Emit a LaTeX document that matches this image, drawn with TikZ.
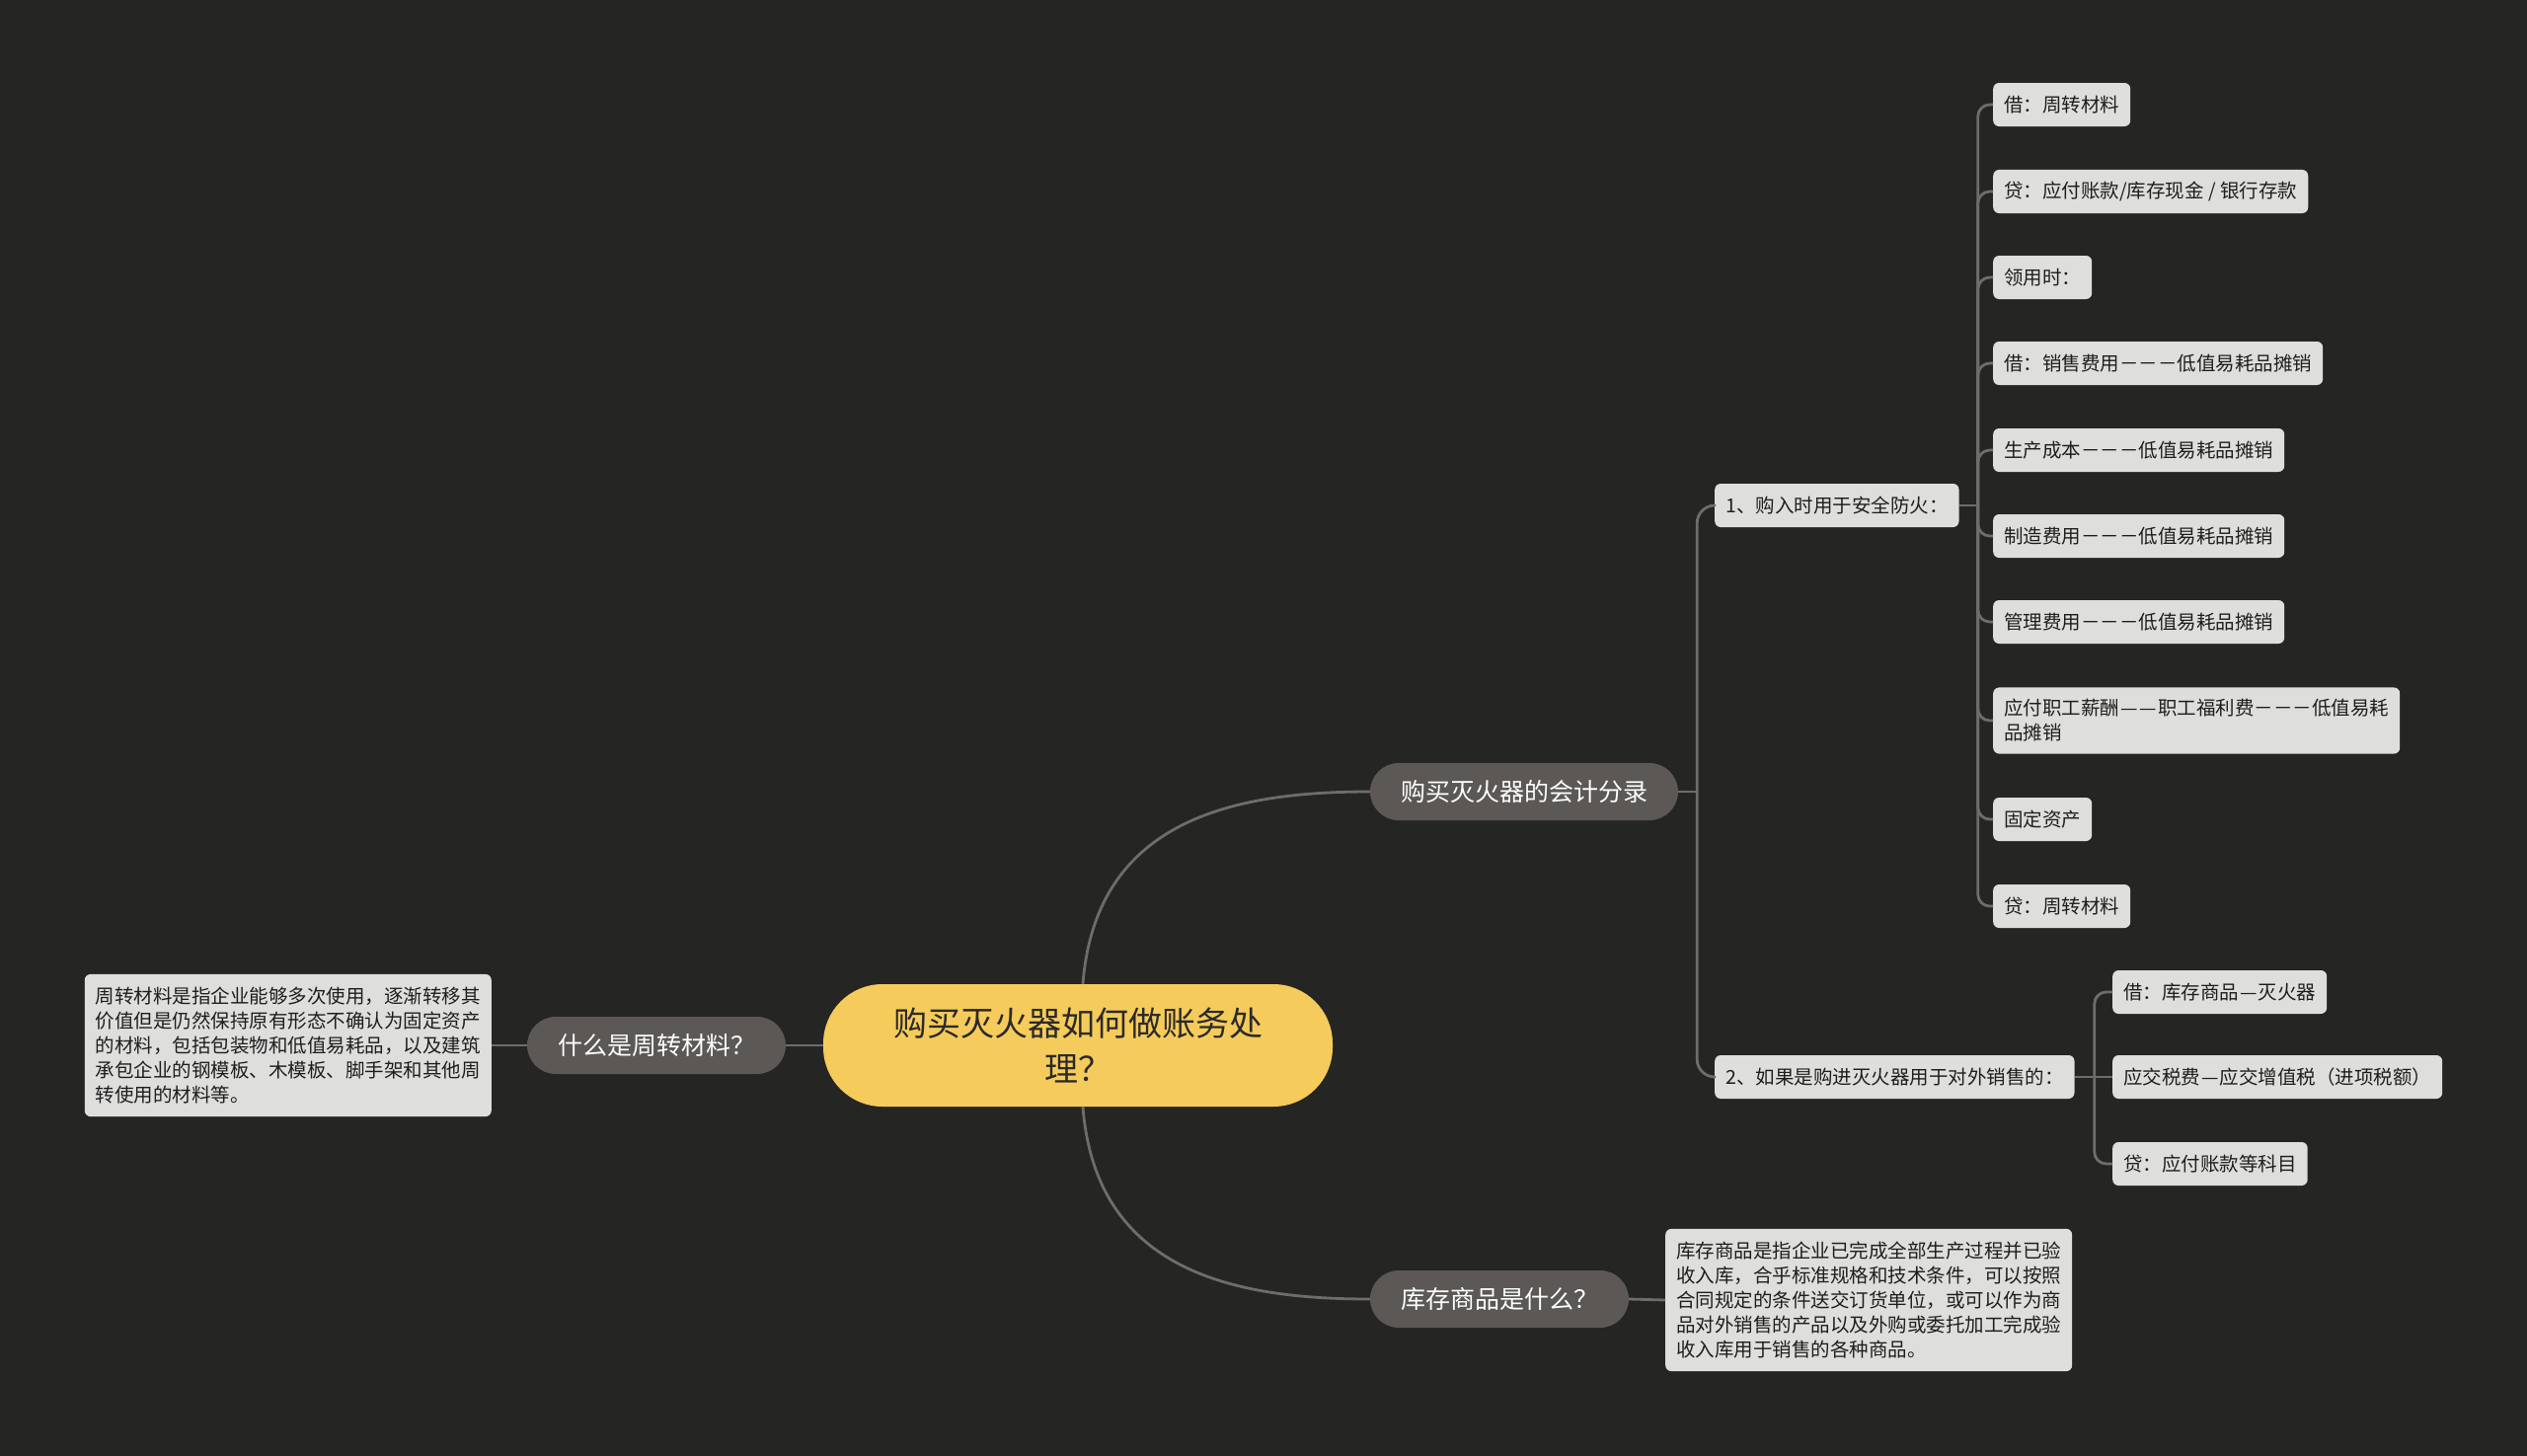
\documentclass[tikz,border=0pt]{standalone}
\usepackage{fontspec}
\setmainfont{Noto Sans CJK SC}
\usetikzlibrary{positioning,calc}

\definecolor{bgdark}{HTML}{252523}
\definecolor{rootyellow}{HTML}{F5CB5C}
\definecolor{roottext}{HTML}{2A2A28}
\definecolor{branchgray}{HTML}{5B5855}
\definecolor{leafgray}{HTML}{DEDEDD}
\definecolor{leaftext}{HTML}{1E1E1E}
\definecolor{linkgray}{HTML}{6F6D6A}

% 全角破折号
\newcommand{\cndash}{\makebox[1em]{—}}

\begin{document}
\begin{tikzpicture}[
    x=1pt, y=-1pt,
    rootbox/.style={
        fill=rootyellow,
        text=roottext,
        rounded corners=60pt,
        minimum width=516pt,
        minimum height=124pt,
        align=center,
        font=\fontsize{34}{46}\selectfont
    },
    branch/.style={
        fill=branchgray,
        text=white,
        rounded corners=29pt,
        minimum height=58pt,
        inner xsep=31pt,
        font=\fontsize{25}{30}\selectfont
    },
    leaf/.style={
        fill=leafgray,
        text=leaftext,
        rounded corners=6pt,
        inner xsep=11pt,
        inner ysep=12pt,
        minimum height=44pt,
        align=left,
        font=\fontsize{19.5}{25}\selectfont
    },
    note/.style={leaf, inner ysep=13pt},
    link/.style={draw=linkgray, line width=2.8pt, line join=round}
]

% 背景
\useasboundingbox[fill=bgdark] (0,0) rectangle (2560,1475);

% 中心主题
\node[rootbox] (root) at (1092,1059) {购买灭火器如何做账务处\\理？};

% 一级分支
\node[branch] (kj) at (1544,802) {购买灭火器的会计分录};
\node[branch] (wh) at (665,1059) {什么是周转材料？};
\node[branch] (kc) at (1519,1316) {库存商品是什么？};

% 说明文字
\node[note, anchor=east] (whnote) at (498,1059)
    {周转材料是指企业能够多次使用，逐渐转移其\\价值但是仍然保持原有形态不确认为固定资产\\的材料，包括包装物和低值易耗品，以及建筑\\承包企业的钢模板、木模板、脚手架和其他周\\转使用的材料等。};
\node[note, anchor=west] (kcnote) at (1687,1317)
    {库存商品是指企业已完成全部生产过程并已验\\收入库，合乎标准规格和技术条件，可以按照\\合同规定的条件送交订货单位，或可以作为商\\品对外销售的产品以及外购或委托加工完成验\\收入库用于销售的各种商品。};

% 二级分支
\node[leaf, anchor=west] (n1) at (1737,512) {1、购入时用于安全防火：};
\node[leaf, anchor=west] (n2) at (1737,1091) {2、如果是购进灭火器用于对外销售的：};

% 购入时的分录
\node[leaf, anchor=west] (a1) at (2019,106) {借：周转材料};
\node[leaf, anchor=west] (a2) at (2019,194) {贷：应付账款/库存现金 / 银行存款};
\node[leaf, anchor=west] (a3) at (2019,281) {领用时：};
\node[leaf, anchor=west] (a4) at (2019,368) {借：销售费用－－－低值易耗品摊销};
\node[leaf, anchor=west] (a5) at (2019,456) {生产成本－－－低值易耗品摊销};
\node[leaf, anchor=west] (a6) at (2019,543) {制造费用－－－低值易耗品摊销};
\node[leaf, anchor=west] (a7) at (2019,630) {管理费用－－－低值易耗品摊销};
\node[leaf, anchor=west] (a8) at (2019,730) {应付职工薪酬\cndash\cndash 职工福利费－－－低值易耗\\品摊销};
\node[leaf, anchor=west] (a9) at (2019,830) {固定资产};
\node[leaf, anchor=west] (a10) at (2019,918) {贷：周转材料};

% 对外销售的分录
\node[leaf, anchor=west] (b1) at (2140,1005) {借：库存商品\cndash 灭火器};
\node[leaf, anchor=west] (b2) at (2140,1091) {应交税费\cndash 应交增值税（进项税额）};
\node[leaf, anchor=west] (b3) at (2140,1179) {贷：应付账款等科目};

% 连线
\draw[link] ([xshift=5pt]root.north) .. controls (1110,830) and (1250,802) .. (kj.west);
\draw[link] ([xshift=5pt]root.south) .. controls (1110,1288) and (1250,1316) .. (kc.west);
\draw[link] (root.west) -- (wh.east);
\draw[link] (wh.west) -- (whnote.east);
\draw[link] (kc.east) -- (kcnote.west);

\coordinate (kjfork) at ([xshift=19pt]kj.east);
\draw[link] (kj.east) -- (kjfork);
\draw[link, rounded corners=18pt] (kjfork) |- (n1.west);
\draw[link, rounded corners=18pt] (kjfork) |- (n2.west);

\coordinate (n1fork) at ([xshift=19pt]n1.east);
\draw[link] (n1.east) -- (n1fork);
\foreach \i in {1,...,10}
    \draw[link, rounded corners=12pt] (n1fork) |- (a\i.west);

\coordinate (n2fork) at ([xshift=20pt]n2.east);
\draw[link] (n2.east) -- (b2.west);
\draw[link, rounded corners=12pt] (n2fork) |- (b1.west);
\draw[link, rounded corners=12pt] (n2fork) |- (b3.west);

\end{tikzpicture}
\end{document}
